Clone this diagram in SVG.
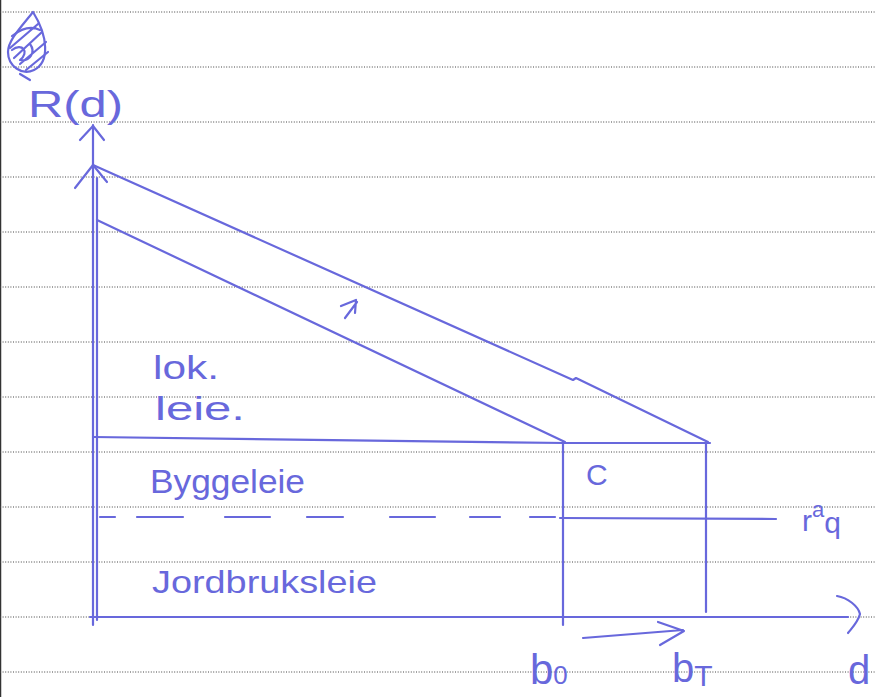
<svg xmlns="http://www.w3.org/2000/svg" width="876" height="697" viewBox="0 0 876 697">
<defs>
<style>
.rule{stroke:#444;stroke-width:1;stroke-dasharray:1 1.6;fill:none}
.ink{stroke:#6868dc;stroke-width:2.2;fill:none;stroke-linecap:round;stroke-linejoin:round}
.hand{font-family:"Liberation Sans","DejaVu Sans",sans-serif;fill:#6868dc}
</style>
</defs>
<rect width="876" height="697" fill="#fff"/>
<line x1="0.5" y1="0" x2="0.5" y2="697" stroke="#333" stroke-width="1.5"/>
<g id="paper-rules">
<line class="rule" x1="0" y1="12" x2="876" y2="12"/>
<line class="rule" x1="0" y1="67" x2="876" y2="67"/>
<line class="rule" x1="0" y1="122" x2="876" y2="122"/>
<line class="rule" x1="0" y1="177" x2="876" y2="177"/>
<line class="rule" x1="0" y1="232" x2="876" y2="232"/>
<line class="rule" x1="0" y1="287" x2="876" y2="287"/>
<line class="rule" x1="0" y1="342" x2="876" y2="342"/>
<line class="rule" x1="0" y1="397" x2="876" y2="397"/>
<line class="rule" x1="0" y1="452" x2="876" y2="452"/>
<line class="rule" x1="0" y1="507" x2="876" y2="507"/>
<line class="rule" x1="0" y1="562" x2="876" y2="562"/>
<line class="rule" x1="0" y1="617" x2="876" y2="617"/>
<line class="rule" x1="0" y1="672" x2="876" y2="672"/>
</g>
<g id="scribble">
<path class="ink" stroke-width="2" d="M33,12 C22,26 8,40 8,52 C8,66 22,76 34,70 C50,62 48,36 33,12 Z"/>
<path class="ink" stroke-width="1.8" d="M12,36 C22,28 32,26 40,30 M10,48 L38,24 M14,58 L42,32 M20,64 L46,42 M26,70 L48,52 M12,50 C22,42 30,52 20,60 C30,62 36,52 30,44 M20,74 L30,80"/>
</g>
<g id="axes">
<path class="ink" d="M93,125 L93,625"/>
<path class="ink" d="M80,140 L93,126 L104,140"/>
<path class="ink" d="M75,188 L93,165 L107,182"/>
<path class="ink" d="M97,178 L97,620"/>
<path class="ink" d="M90,617 L848,617"/>
<path class="ink" d="M837,596 C848,598 858,606 860,614 C858,622 852,628 848,633"/>
</g>
<g id="curves">
<path class="ink" d="M93,165 L573,380 L576,378 L708,442"/>
<path class="ink" d="M97,220 L565,442"/>
<path class="ink" d="M93,437 L565,443 L710,443"/>
<path class="ink" d="M563,443 L563,625"/>
<path class="ink" d="M706,443 L706,612"/>
<path class="ink" stroke-width="1.8" d="M100,517 L115,517 M137,517 L183,517 M225,517 L270,517 M307,517 L343,517 M390,517 L435,517 M470,517 L500,517 M530,517 L555,517 M560,518 L776,519"/>
<path class="ink" d="M345,318 L357,302 M341,306 L356,300 L355,313"/>
<path class="ink" d="M583,638 L683,630 M658,622 L684,631 L660,645"/>
</g>
<g id="labels">
<text class="hand" x="28" y="117" font-size="36" textLength="95" lengthAdjust="spacingAndGlyphs">R(d)</text>
<text class="hand" x="153" y="379" font-size="34" textLength="66" lengthAdjust="spacingAndGlyphs">lok.</text>
<text class="hand" x="155" y="420" font-size="34" textLength="90" lengthAdjust="spacingAndGlyphs">leie.</text>
<text class="hand" x="150" y="493" font-size="34" textLength="155" lengthAdjust="spacingAndGlyphs">Byggeleie</text>
<text class="hand" x="152" y="593" font-size="32" textLength="225" lengthAdjust="spacingAndGlyphs">Jordbruksleie</text>
<text class="hand" x="586" y="485" font-size="30">C</text>
<text class="hand" x="802" y="531" font-size="30">r<tspan font-size="22" dy="-14">a</tspan><tspan font-size="30" dy="16">q</tspan></text>
<text class="hand" x="530" y="684" font-size="42">b<tspan font-size="26">0</tspan></text>
<text class="hand" x="672" y="682" font-size="40">b<tspan font-size="30" dy="4">T</tspan></text>
<text class="hand" x="848" y="684" font-size="40">d</text>
</g>
</svg>
